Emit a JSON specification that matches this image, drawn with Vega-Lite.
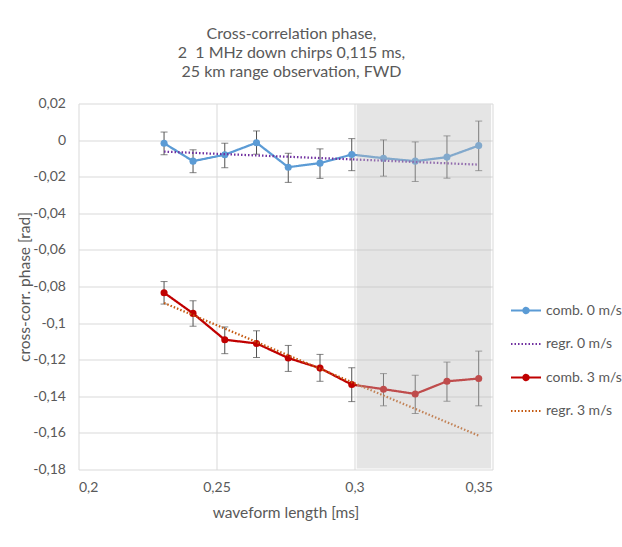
{
  "$schema": "https://vega.github.io/schema/vega-lite/v6.json",
  "width": 414,
  "height": 366,
  "autosize": "none",
  "padding": {"left": 78.5, "top": 103.5, "right": 129.5, "bottom": 77.5},
  "background": "white",
  "config": {
    "font": "Lato",
    "view": {"stroke": null},
    "axis": {
      "domain": false,
      "ticks": false,
      "grid": true,
      "gridColor": "#d9d9d9",
      "gridWidth": 1,
      "labelOverlap": false,
      "labelColor": "#595959",
      "labelFontSize": 14,
      "titleColor": "#595959",
      "titleFontSize": 15.5,
      "titleFontWeight": "normal"
    }
  },
  "title": {
    "text": ["Cross-correlation phase,", "2 \u00a01 MHz down chirps 0,115 ms,", "25 km range observation, FWD"],
    "fontSize": 16,
    "fontWeight": "normal",
    "color": "#595959",
    "anchor": "middle",
    "frame": "group",
    "lineHeight": 19,
    "offset": 17,
    "dx": 6
  },
  "datasets": {
    "comb": [
      {"series": "comb. 0 m/s", "len": 0.231, "phase": -0.0017, "lo": -0.0080, "hi": 0.0044},
      {"series": "comb. 0 m/s", "len": 0.2415, "phase": -0.0115, "lo": -0.0178, "hi": -0.0053},
      {"series": "comb. 0 m/s", "len": 0.253, "phase": -0.0080, "lo": -0.0151, "hi": -0.0017},
      {"series": "comb. 0 m/s", "len": 0.2645, "phase": -0.0014, "lo": -0.0077, "hi": 0.0050},
      {"series": "comb. 0 m/s", "len": 0.276, "phase": -0.0148, "lo": -0.0231, "hi": -0.0072},
      {"series": "comb. 0 m/s", "len": 0.2875, "phase": -0.0126, "lo": -0.0209, "hi": -0.0048},
      {"series": "comb. 0 m/s", "len": 0.299, "phase": -0.0079, "lo": -0.0167, "hi": 0.0008},
      {"series": "comb. 0 m/s", "len": 0.3105, "phase": -0.0099, "lo": -0.0197, "hi": 0.0001},
      {"series": "comb. 0 m/s", "len": 0.322, "phase": -0.0115, "lo": -0.0226, "hi": -0.0010},
      {"series": "comb. 0 m/s", "len": 0.3335, "phase": -0.0093, "lo": -0.0208, "hi": 0.0023},
      {"series": "comb. 0 m/s", "len": 0.345, "phase": -0.0030, "lo": -0.0167, "hi": 0.0104},
      {"series": "comb. 3 m/s", "len": 0.231, "phase": -0.0834, "lo": -0.0896, "hi": -0.0773},
      {"series": "comb. 3 m/s", "len": 0.2415, "phase": -0.0947, "lo": -0.1017, "hi": -0.0878},
      {"series": "comb. 3 m/s", "len": 0.253, "phase": -0.1091, "lo": -0.1167, "hi": -0.1021},
      {"series": "comb. 3 m/s", "len": 0.2645, "phase": -0.1111, "lo": -0.1188, "hi": -0.1042},
      {"series": "comb. 3 m/s", "len": 0.276, "phase": -0.1191, "lo": -0.1264, "hi": -0.1122},
      {"series": "comb. 3 m/s", "len": 0.2875, "phase": -0.1246, "lo": -0.1318, "hi": -0.1171},
      {"series": "comb. 3 m/s", "len": 0.299, "phase": -0.1336, "lo": -0.1429, "hi": -0.1244},
      {"series": "comb. 3 m/s", "len": 0.3105, "phase": -0.1361, "lo": -0.1452, "hi": -0.1276},
      {"series": "comb. 3 m/s", "len": 0.322, "phase": -0.1387, "lo": -0.1494, "hi": -0.1285},
      {"series": "comb. 3 m/s", "len": 0.3335, "phase": -0.1318, "lo": -0.1427, "hi": -0.1213},
      {"series": "comb. 3 m/s", "len": 0.345, "phase": -0.1303, "lo": -0.1452, "hi": -0.1153}
    ],
    "regr": [
      {"series": "regr. 0 m/s", "len": 0.231, "phase": -0.0063},
      {"series": "regr. 0 m/s", "len": 0.345, "phase": -0.0134},
      {"series": "regr. 3 m/s", "len": 0.231, "phase": -0.0890},
      {"series": "regr. 3 m/s", "len": 0.345, "phase": -0.1615}
    ],
    "shade": [
      {"from": 0.3008, "to": 0.3495, "top": 0.0195, "bottom": -0.1795}
    ]
  },
  "layer": [
    {
      "data": {"name": "comb"},
      "mark": {"type": "errorbar", "ticks": true, "size": 7, "thickness": 1, "color": "#505050"},
      "encoding": {
        "x": {
          "field": "len", "type": "quantitative",
          "scale": {"domain": [0.2, 0.35], "nice": false, "zero": false},
          "axis": {
            "title": "waveform length [ms]",
            "values": [0.2, 0.25, 0.3, 0.35],
            "tickCount": 10,
            "labelExpr": "replace(toString(round(datum.value * 100) / 100), '.', ',')",
            "labelPadding": 11,
            "titlePadding": 11
          }
        },
        "y": {
          "field": "lo", "type": "quantitative",
          "scale": {"domain": [-0.18, 0.02], "nice": false, "zero": false},
          "axis": {
            "title": "cross-corr. phase [rad]",
            "values": [-0.18, -0.16, -0.14, -0.12, -0.1, -0.08, -0.06, -0.04, -0.02, 0, 0.02],
            "tickCount": 20,
            "labelExpr": "replace(toString(round(datum.value * 100) / 100), '.', ',')",
            "labelPadding": 13,
            "titlePadding": 0
          }
        },
        "y2": {"field": "hi"}
      }
    },
    {
      "data": {"name": "comb"},
      "mark": {"type": "line", "strokeWidth": 2.25},
      "encoding": {
        "x": {"field": "len", "type": "quantitative"},
        "y": {"field": "phase", "type": "quantitative"},
        "color": {
          "field": "series", "type": "nominal",
          "scale": {
            "domain": ["comb. 0 m/s", "regr. 0 m/s", "comb. 3 m/s", "regr. 3 m/s"],
            "range": ["#5B9BD5", "#7030A0", "#C00000", "#C55A11"]
          },
          "legend": {
            "title": null,
            "orient": "none",
            "legendX": 431.5,
            "legendY": 191,
            "padding": 0,
            "rowPadding": 10.5,
            "symbolSize": 900,
            "labelOffset": 4,
            "labelFontSize": 14,
            "labelColor": "#595959",
            "labelFont": "Lato",
            "encode": {
              "symbols": {
                "update": {
                  "shape": {"signal": "indexof(datum.value, 'comb') === 0 ? 'M-1,0H1M0.18,0A0.18,0.18,0,1,1,-0.18,0A0.18,0.18,0,1,1,0.18,0Z' : 'M-1,0H1'"},
                  "stroke": {"scale": "color", "field": "value"},
                  "fill": {"scale": "color", "field": "value"},
                  "strokeDash": {"scale": "strokeDash", "field": "value"},
                  "strokeWidth": {"value": 2},
                  "opacity": {"value": 1},
                  "fillOpacity": {"value": 1},
                  "size": {"value": 900}
                }
              }
            }
          }
        },
        "strokeDash": {
          "field": "series", "type": "nominal",
          "scale": {
            "domain": ["comb. 0 m/s", "regr. 0 m/s", "comb. 3 m/s", "regr. 3 m/s"],
            "range": [[1, 0], [1.5, 2], [1, 0], [1.5, 2]]
          },
          "legend": null
        }
      }
    },
    {
      "data": {"name": "comb"},
      "mark": {"type": "circle", "size": 50, "opacity": 1},
      "encoding": {
        "x": {"field": "len", "type": "quantitative"},
        "y": {"field": "phase", "type": "quantitative"},
        "color": {"field": "series", "type": "nominal"}
      }
    },
    {
      "data": {"name": "regr"},
      "mark": {"type": "line", "strokeWidth": 2.25},
      "encoding": {
        "x": {"field": "len", "type": "quantitative"},
        "y": {"field": "phase", "type": "quantitative"},
        "color": {"field": "series", "type": "nominal"},
        "strokeDash": {"field": "series", "type": "nominal"}
      }
    },
    {
      "data": {"name": "shade"},
      "mark": {"type": "rect", "color": "#bfbfbf", "opacity": 0.4},
      "encoding": {
        "x": {"field": "from", "type": "quantitative"},
        "x2": {"field": "to"},
        "y": {"field": "top", "type": "quantitative"},
        "y2": {"field": "bottom"}
      }
    }
  ]
}
